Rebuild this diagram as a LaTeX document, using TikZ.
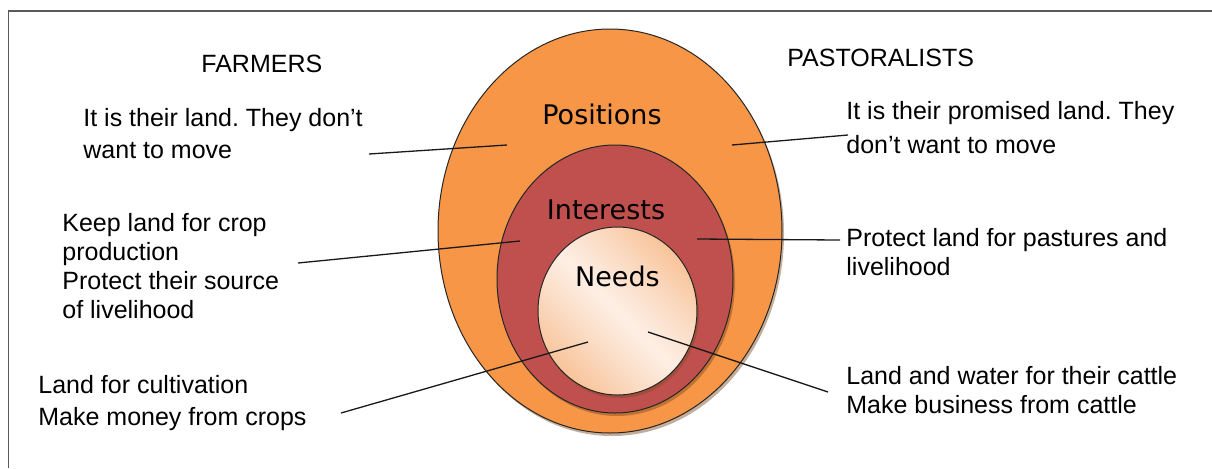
\documentclass[tikz,border=0pt]{standalone}
\usepackage{fontspec}
\setmainfont{Liberation Sans}
\newfontfamily\verd{DejaVu Sans}
\usetikzlibrary{shapes.geometric,shadows}
\frenchspacing
\definecolor{posorange}{HTML}{F79646}
\definecolor{intred}{HTML}{C0504D}
\definecolor{peachD}{HTML}{F8C49A}
\definecolor{peachM}{HTML}{FBDCC4}
\definecolor{peachL}{HTML}{FDEFE5}
\definecolor{framegray}{HTML}{5A5A5A}
\definecolor{shadowbrown}{HTML}{7A4A22}
\pgfdeclarehorizontalshading{needshade}{100bp}{color(0bp)=(peachD); color(25bp)=(peachD); color(38bp)=(peachM); color(50bp)=(peachL); color(62bp)=(peachM); color(75bp)=(peachD); color(100bp)=(peachD)}
\tikzset{
  ring/.style={ellipse, draw=black!85, line width=0.5pt, inner sep=0pt,
    drop shadow={shadow xshift=1pt, shadow yshift=-1.5pt, opacity=0.45, fill=shadowbrown}},
  ringlabel/.style={anchor=base, inner sep=0pt, font=\verd\fontsize{13.5pt}{16pt}\selectfont},
  head/.style={anchor=base west, inner sep=0pt, font=\fontsize{12.5pt}{15pt}\selectfont},
  txt/.style={anchor=base west, inner sep=0pt, font=\fontsize{12.5pt}{#1}\selectfont},
  conn/.style={draw=black!90, line width=0.65pt}
}
\begin{document}
\begin{tikzpicture}[x=0.5pt,y=-0.5pt]
\useasboundingbox (0,0) rectangle (1212,468);
% frame
\draw[framegray, line width=0.6pt] (8.5,468) -- (8.5,11) -- (1212,11);
% ellipses
\node[ring, fill=posorange, minimum width=172pt, minimum height=202pt] (outer) at (610,231) {};
\node[ring, fill=intred, minimum width=118pt, minimum height=134pt] (mid) at (615,279) {};
\node[ring, shade, shading=needshade, shading angle=45, minimum width=79.5pt, minimum height=84pt] (inner) at (617.5,311) {};
% ring labels
\node[ringlabel] (lpos) at (602,124) {Positions};
\node[ringlabel] (lint) at (606,219) {Interests};
\node[ringlabel] (lneed) at (617.5,286.5) {Needs};
% headings
\node[head] (farmers) at (201,72) {FARMERS};
\node[head] (pastoral) at (787,66) {PASTORALISTS};
% farmers texts
\node[txt=16pt] (f1) at (83,126) {\parbox[t]{200pt}{It is their land. They don’t\\want to move}};
\node[txt=14.6pt] (f2) at (62,231) {\parbox[t]{200pt}{Keep land for crop\\production\\Protect their source\\of livelihood}};
\node[txt=16pt] (f3) at (38,393) {\parbox[t]{200pt}{Land for cultivation\\Make money from crops}};
% pastoralists texts
\node[txt=17pt] (p1) at (846,119) {\parbox[t]{200pt}{It is their promised land. They\\don’t want to move}};
\node[txt=14.6pt] (p2) at (846,246) {\parbox[t]{200pt}{Protect land for pastures and\\livelihood}};
\node[txt=14.6pt] (p3) at (846,384) {\parbox[t]{200pt}{Land and water for their cattle\\Make business from cattle}};
% connector end points
\coordinate (fa1) at (369,154); \coordinate (fb1) at (507,145);
\coordinate (fa2) at (298,263); \coordinate (fb2) at (520,241);
\coordinate (fa3) at (341,413); \coordinate (fb3) at (588,342);
\coordinate (pa1) at (848,135); \coordinate (pb1) at (732,145);
\coordinate (pa2) at (840,240); \coordinate (pb2) at (697,239);
\coordinate (pa3) at (828,392); \coordinate (pb3) at (648,332);
% connectors
\draw[conn] (fa1) -- (fb1);
\draw[conn] (fa2) -- (fb2);
\draw[conn] (fa3) -- (fb3);
\draw[conn] (pa1) -- (pb1);
\draw[conn] (pa2) -- (pb2);
\draw[conn] (pa3) -- (pb3);
\end{tikzpicture}
\end{document}
